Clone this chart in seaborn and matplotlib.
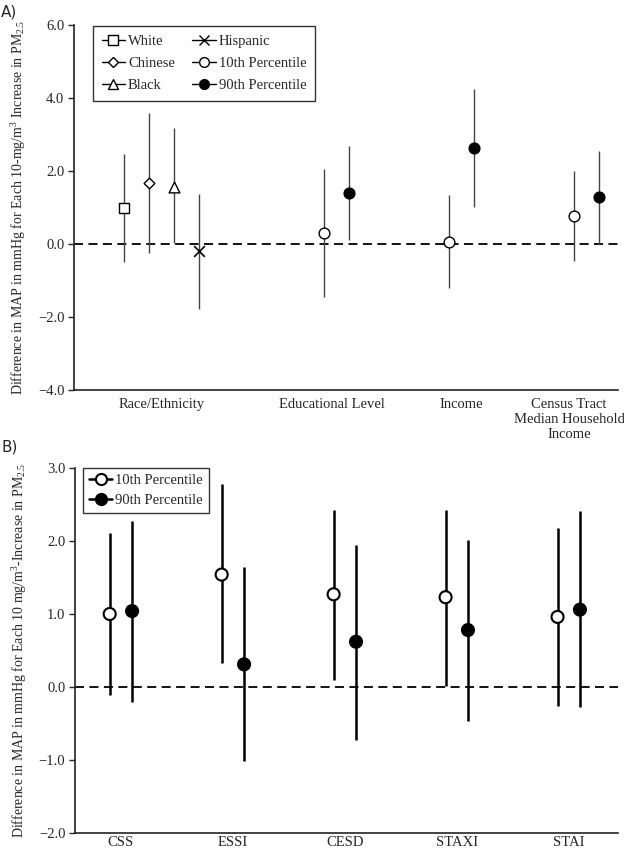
import numpy as np
import pandas as pd
import matplotlib
matplotlib.use("Agg")
import matplotlib.pyplot as plt
from matplotlib.lines import Line2D
import seaborn as sns

# ---- Panel A data -------------------------------------------------------
a_groups = ["Race/Ethnicity", "Educational Level", "Income",
            "Census Tract\nMedian Household\nIncome"]
a_series = ["White", "Chinese", "Black", "Hispanic",
            "10th Percentile", "90th Percentile",
            "10th Percentile", "90th Percentile",
            "10th Percentile", "90th Percentile"]
a_group_of = [0, 0, 0, 0, 1, 1, 2, 2, 3, 3]
a_est = [1.00, 1.68, 1.57, -0.20, 0.29, 1.41, 0.06, 2.62, 0.77, 1.28]
a_low = [-0.49, -0.26, 0.02, -1.78, -1.46, 0.11, -1.20, 1.02, -0.47, 0.00]
a_high = [2.47, 3.60, 3.17, 1.38, 2.05, 2.69, 1.34, 4.24, 2.00, 2.56]
a_yticks = [-4.0, -2.0, 0.0, 2.0, 4.0, 6.0]

# ---- Panel B data -------------------------------------------------------
b_scales = ["CSS", "ESSI", "CESD", "STAXI", "STAI"]
b_p10_est = [1.00, 1.54, 1.27, 1.23, 0.96]
b_p10_low = [-0.11, 0.33, 0.10, 0.01, -0.26]
b_p10_high = [2.11, 2.78, 2.43, 2.43, 2.18]
b_p90_est = [1.04, 0.31, 0.62, 0.78, 1.06]
b_p90_low = [-0.20, -1.02, -0.72, -0.46, -0.28]
b_p90_high = [2.28, 1.64, 1.95, 2.01, 2.41]
b_yticks = [-2.0, -1.0, 0.0, 1.0, 2.0, 3.0]


def fmt(v):
    return f"{v:.1f}".replace("-", "\u2212")


sns.set_theme(style="ticks")
plt.rcParams["font.family"] = ["Liberation Serif", "DejaVu Serif"]
plt.rcParams["mathtext.fontset"] = "custom"
plt.rcParams["mathtext.rm"] = "Liberation Serif"
plt.rcParams["mathtext.it"] = "Liberation Serif:italic"
plt.rcParams["axes.edgecolor"] = "#222222"
plt.rcParams["axes.linewidth"] = 1.2

styles = {
    "White": dict(marker="s", fc="white"),
    "Chinese": dict(marker="D", fc="white"),
    "Black": dict(marker="^", fc="white"),
    "Hispanic": dict(marker="x", fc="black"),
    "10th Percentile": dict(marker="o", fc="white"),
    "90th Percentile": dict(marker="o", fc="black"),
}
marker_size = {"s": 55, "D": 30, "^": 60, "x": 60, "o": 60}

fig = plt.figure(figsize=(6.24, 8.52), dpi=100)
axA = fig.add_axes([74 / 624, 1 - 390 / 852, 544 / 624, 365 / 852])
axB = fig.add_axes([75 / 624, 1 - 833 / 852, 543 / 624, 365 / 852])

# x layout for panel A (slots of equal width, groups separated by gaps)
group_start = [2, 10, 15, 20]
a_x, seen = [], {}
for g in a_group_of:
    a_x.append(group_start[g] + seen.get(g, 0))
    seen[g] = seen.get(g, 0) + 1

dfA = pd.DataFrame({"x": a_x, "est": a_est, "low": a_low, "high": a_high,
                    "series": a_series})

axA.axhline(0, color="black", lw=1.3, ls=(0, (5, 3)), zorder=1)
axA.vlines(dfA["x"], dfA["low"], dfA["high"], color="#444444", lw=1.0, zorder=2)
for name, sub in dfA.groupby("series", sort=False):
    st = styles[name]
    if st["marker"] == "x":
        sns.scatterplot(data=sub, x="x", y="est", marker="x", color="black",
                        s=marker_size["x"], linewidth=1.2, ax=axA, zorder=3)
    else:
        sns.scatterplot(data=sub, x="x", y="est", marker=st["marker"],
                        color=st["fc"], edgecolor="black", linewidth=1.0,
                        s=marker_size[st["marker"]], ax=axA, zorder=3)

axA.set_xlim(0, 21.76)
axA.set_ylim(-4, 6)
axA.set_yticks(a_yticks)
axA.set_yticklabels([fmt(v) for v in a_yticks])
label_pos = [3.5, 10.3, 15.5, 19.8]
axA.set_xticks(label_pos)
axA.set_xticklabels(a_groups, linespacing=1.2)
axA.tick_params(axis="x", length=0, pad=6, labelsize=10.5)
axA.tick_params(axis="y", length=4, width=1.0, labelsize=10.5, pad=3)
axA.set_xlabel("")
axA.set_ylabel(r"Difference in MAP in mmHg for Each 10-mg/m$^3$ Increase in PM$_{2.5}$",
               fontsize=10)
axA.yaxis.set_label_coords(-0.085, 0.5)
sns.despine(ax=axA)

order = ["White", "Chinese", "Black", "Hispanic", "10th Percentile", "90th Percentile"]
handles = []
for name in order:
    st = styles[name]
    ms = 7 if st["marker"] != "D" else 5.5
    handles.append(Line2D([0], [0], color="black", lw=1.0, marker=st["marker"],
                          markerfacecolor=st["fc"], markeredgecolor="black",
                          markersize=ms))
legA = axA.legend(handles, order, ncol=2, loc="upper left",
                  bbox_to_anchor=(0.035, 0.997), borderaxespad=0,
                  frameon=True, fancybox=False, edgecolor="black",
                  fontsize=10.5, handlelength=1.6, handletextpad=0.2,
                  columnspacing=1.2, labelspacing=0.6, borderpad=0.6)
legA.get_frame().set_linewidth(1.0)

# ---- Panel B ------------------------------------------------------------
xb = np.arange(len(b_scales))
off = 0.1
dfB = pd.DataFrame({
    "x": np.concatenate([xb - off, xb + off]),
    "est": b_p10_est + b_p90_est,
    "low": b_p10_low + b_p90_low,
    "high": b_p10_high + b_p90_high,
    "series": ["10th Percentile"] * 5 + ["90th Percentile"] * 5,
})

axB.axhline(0, color="black", lw=1.3, ls=(0, (5, 3)), zorder=1)
axB.vlines(dfB["x"], dfB["low"], dfB["high"], color="black", lw=1.8, zorder=2)
sns.scatterplot(data=dfB, x="x", y="est", hue="series",
                palette={"10th Percentile": "white", "90th Percentile": "black"},
                edgecolor="black", linewidth=1.5, s=75, ax=axB, zorder=3,
                legend=False)

axB.set_xlim(-0.41, 4.44)
axB.set_ylim(-2, 3)
axB.set_yticks(b_yticks)
axB.set_yticklabels([fmt(v) for v in b_yticks])
axB.set_xticks(xb)
axB.set_xticklabels(b_scales)
axB.tick_params(axis="x", length=0, pad=2, labelsize=10.5)
axB.tick_params(axis="y", length=4, width=1.0, labelsize=10.5, pad=3)
axB.set_xlabel("")
axB.set_ylabel(r"Difference in MAP in mmHg for Each 10 mg/m$^3$-Increase in PM$_{2.5}$",
               fontsize=10)
axB.yaxis.set_label_coords(-0.085, 0.5)
sns.despine(ax=axB)

hB = [Line2D([0], [0], color="black", lw=1.8, marker="o", markerfacecolor=fc,
             markeredgecolor="black", markeredgewidth=1.5, markersize=8)
      for fc in ["white", "black"]]
legB = axB.legend(hB, ["10th Percentile", "90th Percentile"], loc="upper left",
                  bbox_to_anchor=(0.015, 1.0), borderaxespad=0, frameon=True,
                  fancybox=False, edgecolor="black", fontsize=10.5,
                  handlelength=1.6, handletextpad=0.2, labelspacing=0.45,
                  borderpad=0.4)
legB.get_frame().set_linewidth(1.0)

fig.text(0.002, 1 - 12 / 852, "A)", family="DejaVu Sans", fontsize=11, va="center")
fig.text(0.002, 1 - 447 / 852, "B)", family="DejaVu Sans", fontsize=11, va="center")

fig.savefig("out.png", dpi=100)
